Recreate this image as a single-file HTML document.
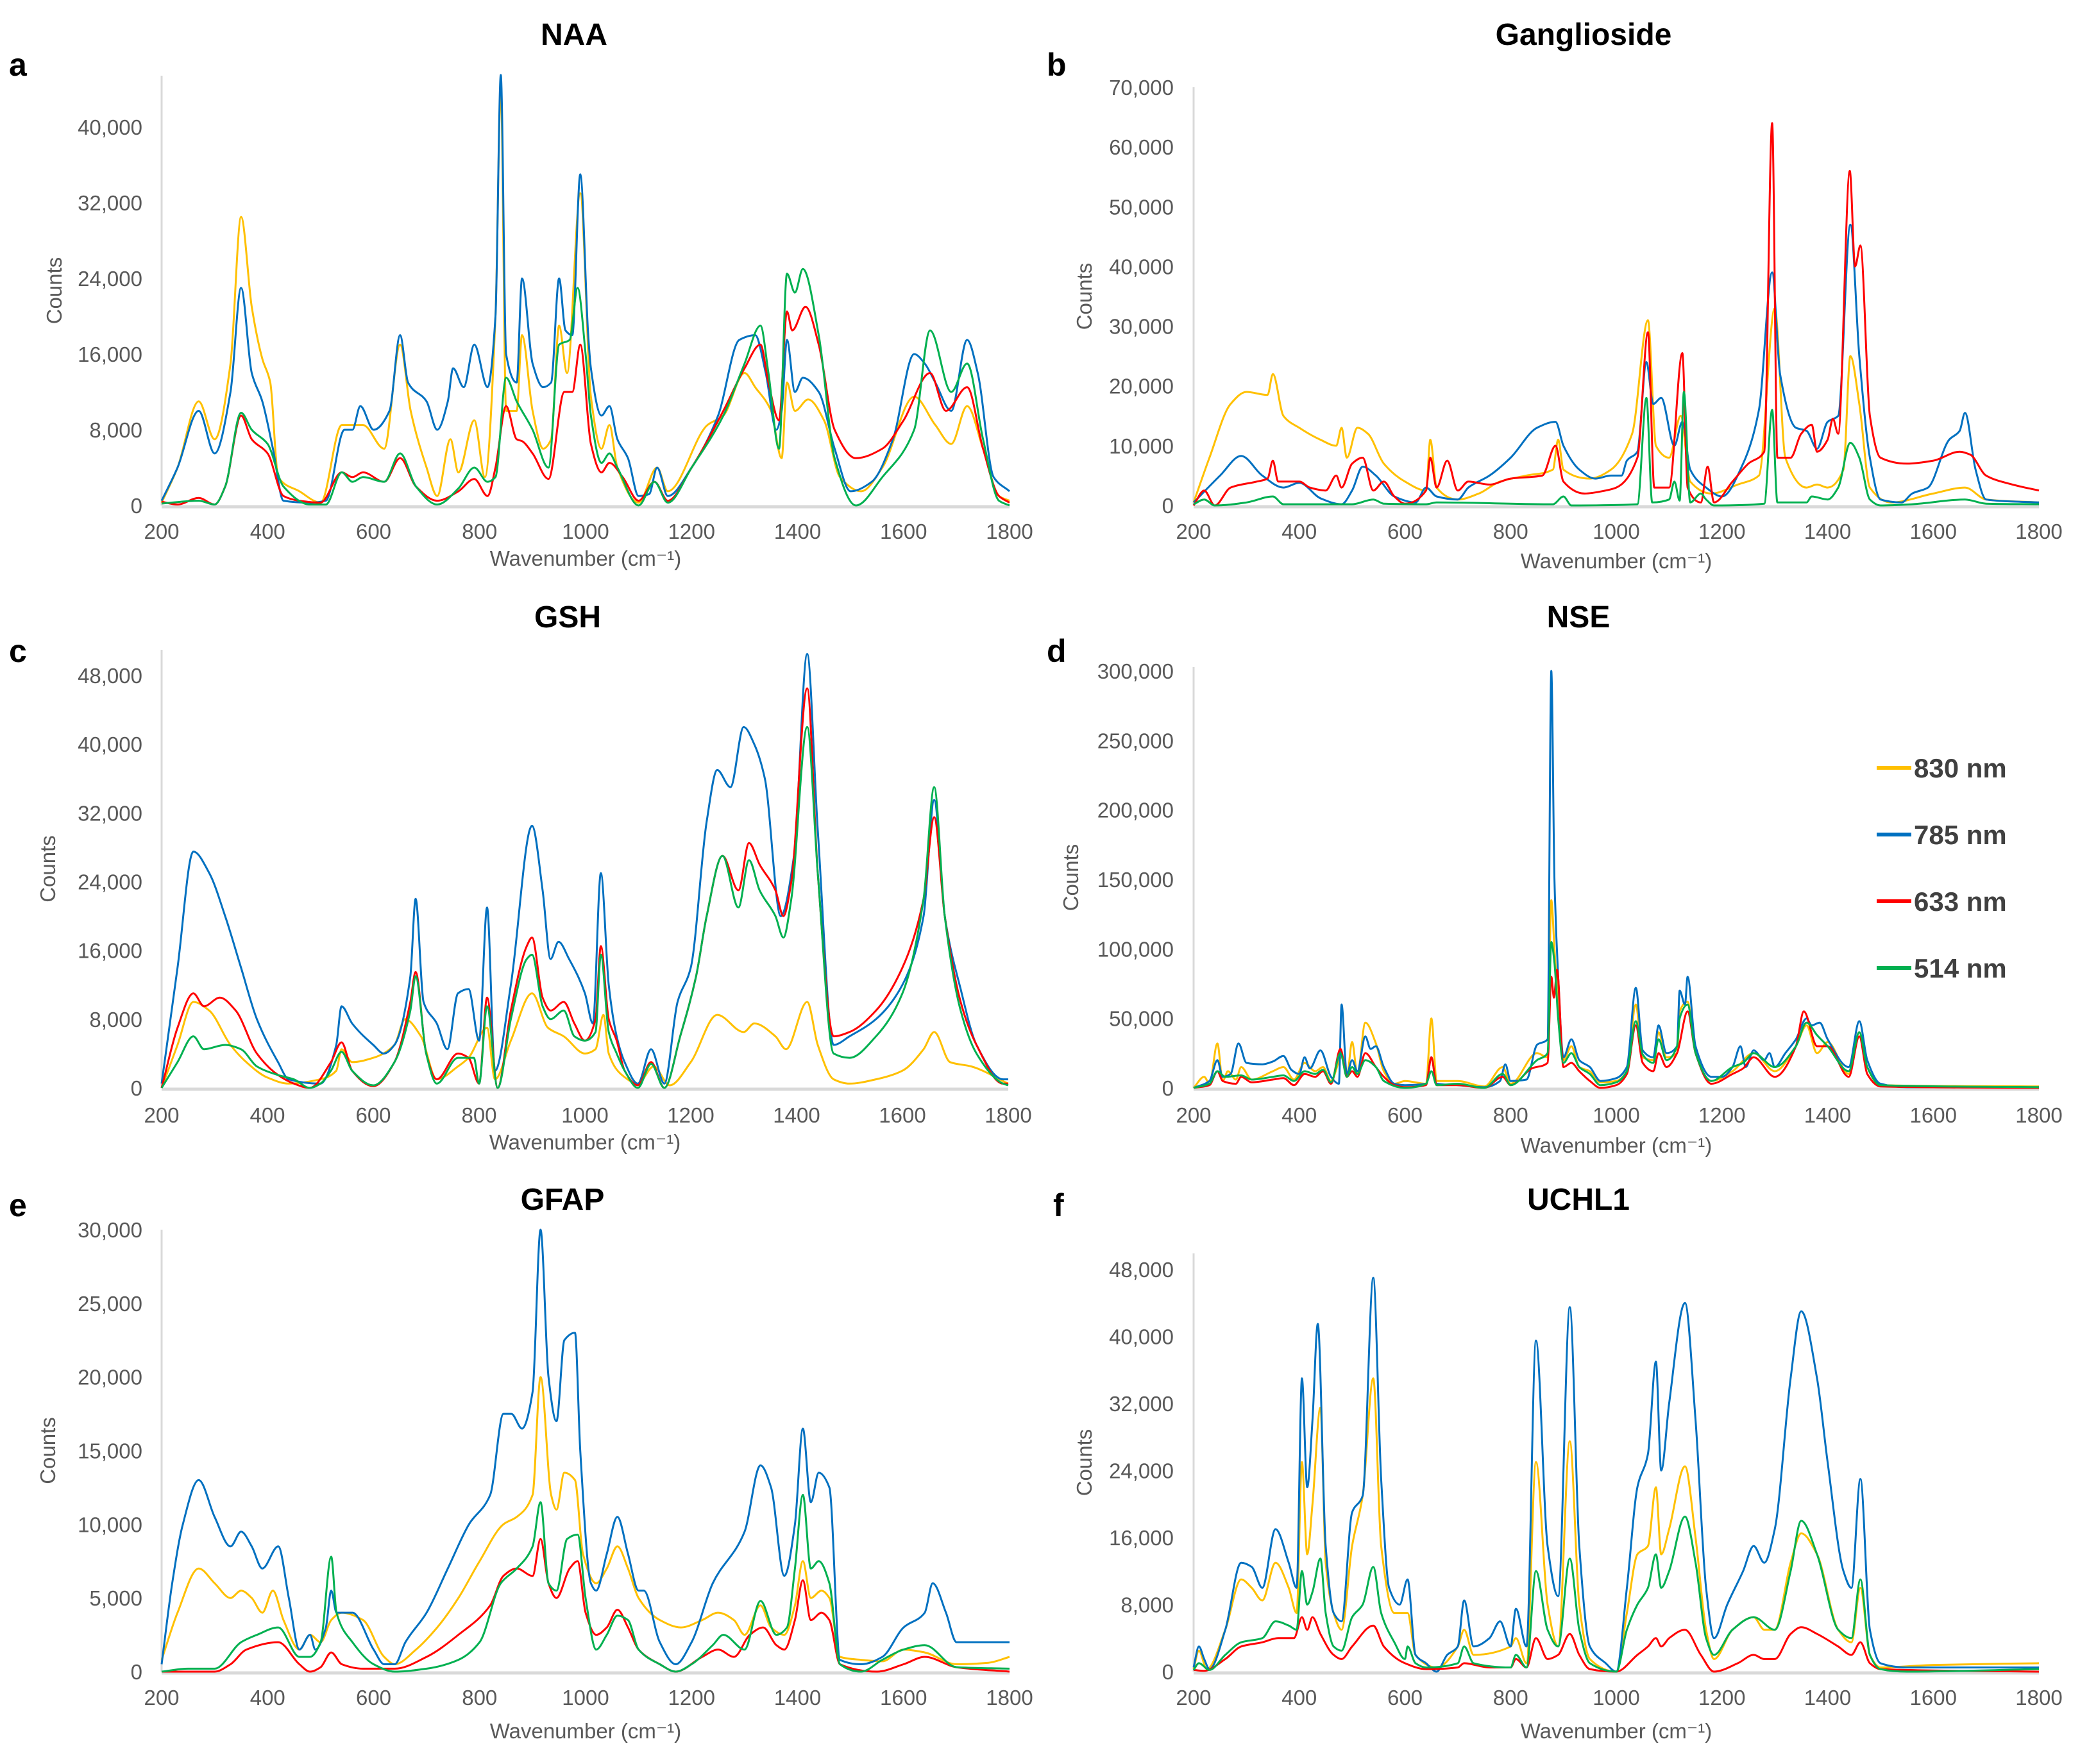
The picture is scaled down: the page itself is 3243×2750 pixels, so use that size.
<!DOCTYPE html>
<html><head><meta charset="utf-8"><style>
html,body{margin:0;padding:0;background:#fff}
svg{display:block}
text{font-family:"Liberation Sans",Arial,sans-serif}
</style></head><body>
<svg id="fig" width="3243" height="2750" viewBox="0 0 3243 2750" xmlns="http://www.w3.org/2000/svg"></svg>
<script>
// ---------- DATA (wavenumber, counts in thousands) ----------
const seriesNames = ["830 nm","785 nm","633 nm","514 nm"];
const panelTitles = ["NAA","Ganglioside","GSH","NSE","GFAP","UCHL1"];
const panelLetters = ["a","b","c","d","e","f"];
const xTicks = [200,400,600,800,1000,1200,1400,1600,1800];
const yTicksA = [0,8000,16000,24000,32000,40000];
const yTicksB = [0,10000,20000,30000,40000,50000,60000,70000];
const yTicksC = [0,8000,16000,24000,32000,40000,48000];
const yTicksD = [0,50000,100000,150000,200000,250000,300000];
const yTicksE = [0,5000,10000,15000,20000,25000,30000];
const yTicksF = [0,8000,16000,24000,32000,40000,48000];

const naa830=[[200,0.3],[230,4],[270,11],[300,7],[330,15],[350,30.5],[370,21],[390,15.5],[405,13],[420,3],[460,1.5],[500,0.3],[540,8.5],[580,8.5],[620,6],[650,17],[670,10],[700,4],[720,1],[745,7],[760,3.5],[790,9],[810,3],[830,20],[840,44],[850,10],[870,10],[880,18],[900,10],[920,6],[935,7],[950,19],[965,14],[990,33],[1010,11.5],[1030,6],[1045,8.5],[1060,4],[1100,0.3],[1135,4],[1155,1.5],[1230,8.5],[1260,9.5],[1300,14],[1320,12.5],[1350,10],[1370,5],[1380,13],[1395,10],[1420,11.2],[1450,9],[1480,3],[1520,1.5],[1560,4],[1620,11.5],[1660,8.5],[1690,6.5],[1720,10.5],[1750,6],[1780,1],[1800,0.5]];
const naa785=[[200,0.5],[230,4],[270,10],[300,5.5],[330,12],[350,23],[370,14],[390,11],[410,6],[430,0.5],[480,0.3],[510,0.5],[545,8],[560,8],[575,10.5],[600,8],[630,10],[650,18],[665,13],[700,11],[720,8],[740,11],[750,14.5],[770,12.5],[790,17],[815,12.5],[830,20],[840,45.5],[850,16],[870,13],[880,24],[900,15],[920,12.5],[935,13],[950,24],[962,18.5],[975,18],[990,35],[1005,18],[1010,14.5],[1030,9.5],[1045,10.5],[1060,7],[1080,5],[1100,1],[1120,1.2],[1135,4],[1155,1],[1200,4],[1250,9.5],[1290,17.5],[1320,18],[1340,14],[1360,8],[1370,10],[1380,17.5],[1395,12],[1410,13.5],[1440,12],[1470,6],[1500,1.5],[1540,2.5],[1580,7],[1620,16],[1640,15],[1660,13],[1690,10],[1720,17.5],[1740,14],[1770,3],[1800,1.5]];
const naa633=[[200,0.4],[230,0.1],[270,0.8],[300,0.1],[320,2],[350,9.5],[370,7],[400,5.5],[430,1],[460,0.5],[500,0.3],[540,3.5],[560,3],[580,3.5],[620,2.5],[650,5],[680,2],[720,0.5],[760,1.5],[790,2.8],[815,1],[830,4],[850,10.5],[870,7],[880,6.8],[900,5.5],[930,2.8],[960,12],[975,12],[990,17],[1010,6.5],[1030,3.5],[1045,4.5],[1070,3],[1100,0.5],[1130,2.5],[1155,0.5],[1200,4],[1260,10],[1300,14.5],[1330,17],[1345,13],[1365,9],[1380,20.5],[1390,18.5],[1415,21],[1440,17],[1470,8],[1510,5],[1560,6],[1600,9],[1650,14],[1680,10],[1720,12.5],[1750,6],[1780,1],[1800,0.3]];
const naa514=[[200,0.2],[270,0.5],[300,0.1],[320,2],[350,9.8],[370,8],[400,6.5],[430,2],[480,0.1],[510,0.1],[540,3.5],[560,2.5],[580,3],[620,2.5],[650,5.5],[680,2],[720,0.1],[760,1.8],[790,4],[815,2.5],[830,3],[850,13.5],[870,11],[900,8],[930,4],[950,17],[970,17.5],[985,23],[1000,16],[1010,9.5],[1030,4.5],[1045,5.5],[1060,4],[1100,0],[1130,2.5],[1155,0.3],[1200,4],[1260,9.5],[1300,15],[1330,19],[1345,14],[1365,6],[1380,24.5],[1395,22.5],[1410,25],[1440,18],[1470,5],[1510,0],[1560,3],[1620,8],[1650,18.5],[1690,12],[1720,15],[1750,7],[1780,0.5],[1800,0]];

const gan830=[[200,0.5],[230,8],[270,17],[300,19],[340,18.5],[350,22],[370,15],[400,13],[440,11],[470,10],[480,13],[490,8],[510,13],[530,12],[560,7],[600,4],[640,2.5],[648,11],[660,3],[700,1],[740,2],[780,4],[830,5],[880,6],[890,11],[900,6],[950,4.5],[990,6],[1030,12],[1060,31],[1075,10],[1100,8],[1122,15],[1140,4],[1180,2],[1230,3.5],[1270,5],[1300,33],[1320,8],[1360,3],[1380,3.5],[1400,3],[1430,6],[1443,25],[1460,17],[1480,3],[1520,0.5],[1600,2],[1660,3],[1700,1],[1800,0.5]];
const gan785=[[200,0.5],[250,5],[290,8.3],[330,5],[370,3],[400,3.8],[440,1.2],[480,0.2],[500,2.5],[520,6.5],[545,5],[580,1.5],[620,0.5],[640,3],[660,1.5],[700,1],[720,3],[760,5],[800,8],[850,13],[885,14],[900,10],[930,6],[960,4.5],[990,5],[1010,5],[1020,7.5],[1040,9],[1057,24],[1070,17],[1085,18],[1110,10],[1125,14],[1140,6],[1170,3],[1200,1.5],[1240,7],[1270,16],[1295,39],[1310,22],[1340,13],[1360,12.5],[1380,9.5],[1400,14],[1420,15],[1443,47],[1460,25],[1480,8],[1500,1],[1540,0.5],[1560,2],[1590,3],[1630,11],[1650,12.5],[1660,15.5],[1680,6],[1700,1],[1800,0.5]];
const gan633=[[200,0],[220,2.5],[240,0],[270,3],[320,4],[340,4.5],[350,7.5],[360,4],[400,4],[420,3],[450,2.5],[470,5],[480,3],[500,7],[520,8],[540,2.5],[560,4],[580,1.5],[600,0.3],[640,2.5],[648,8],[660,3],[680,7.5],[700,2.5],[720,4],[760,3.5],[800,4.5],[860,5],[885,10],[900,4],[940,2],[980,2.5],[1000,3],[1040,8],[1060,29],[1072,3],[1100,3],[1125,25.5],[1135,3],[1160,0.5],[1173,6.5],[1185,0.5],[1220,4],[1250,7],[1280,9],[1295,64],[1305,8],[1330,8],[1350,12],[1370,13.5],[1380,9],[1400,11],[1410,14.5],[1420,12],[1442,56],[1452,40],[1462,43.5],[1480,15],[1500,8],[1550,7],[1600,7.5],[1650,9],[1670,8.5],[1700,5],[1750,3.5],[1800,2.5]];
const gan514=[[200,0.2],[220,1],[240,0],[300,0.5],[350,1.5],[370,0.2],[500,0.2],[540,1],[560,0.3],[640,0.2],[660,0.5],[880,0.2],[900,1.5],[915,0],[1040,0.2],[1057,18],[1068,0.5],[1100,1],[1110,4],[1120,0.8],[1128,19],[1140,0.5],[1160,2],[1170,1],[1185,0],[1280,0.3],[1295,16],[1305,0.5],[1360,0.5],[1370,1.5],[1400,1],[1420,3],[1443,10.5],[1460,8],[1480,1],[1500,0],[1560,0.2],[1660,1],[1700,0.3],[1800,0.2]];

const gsh830=[[200,0],[230,5],[260,10],[290,9],[330,5],[360,3],[400,1.2],[440,0.5],[500,1],[530,2],[540,4.5],[560,3],[600,3.5],[640,5],[660,8],[690,6],[720,1],[760,2.5],[780,3.5],[815,7],[830,1],[860,5.5],[900,11],[930,7],[960,6],[1000,4],[1020,4.5],[1035,8.5],[1045,4],[1070,1.5],[1100,0.5],[1130,2.5],[1160,0.3],[1200,3],[1250,8.5],[1300,6.5],[1320,7.5],[1360,6],[1380,4.5],[1420,10],[1440,5],[1470,1],[1500,0.5],[1550,1],[1600,2],[1640,4.5],[1660,6.5],[1690,3],[1730,2.5],[1800,0.5]];
const gsh785=[[200,0.5],[230,14],[260,27.5],[290,25],[320,20],[350,14],[380,8],[420,3],[440,1],[500,0.5],[530,5],[540,9.5],[560,7.5],[600,5],[620,4],[640,5],[670,13],[680,22],[695,10],[720,7.5],[740,4.5],[760,11],[780,11.5],[800,5.5],[815,21],[830,2],[860,12],[900,30.5],[920,23],[935,15],[950,17],[970,15],[1000,11],[1015,7.5],[1030,25],[1045,12],[1060,6],[1075,3],[1100,0.5],[1125,4.5],[1150,0.5],[1175,10],[1200,14],[1230,31],[1250,37],[1275,35],[1300,42],[1320,40],[1340,36],[1370,20],[1395,27],[1420,50.5],[1440,30],[1470,5],[1500,6],[1550,8],[1600,12],[1640,20],[1660,33.5],[1680,20],[1710,11.5],[1740,5],[1790,1],[1800,1]];
const gsh633=[[200,0],[230,7],[260,11],[280,9.5],[310,10.5],[340,9],[380,4],[420,1.5],[450,0.5],[480,0],[520,3],[540,5.3],[560,2],[600,0.2],[640,3],[670,10],[680,13.5],[700,4],[720,1],[760,4],[780,3.5],[800,0.5],[815,10.5],[835,0],[860,9],[890,16.5],[900,17.5],[920,10.5],[935,9],[960,10],[980,7.5],[1000,5.5],[1020,8],[1030,16.5],[1045,8],[1060,5.5],[1075,2],[1100,0.3],[1125,3],[1150,0],[1180,6],[1210,13],[1230,20],[1260,27],[1290,23],[1310,28.5],[1330,26],[1360,23],[1375,20],[1390,24],[1420,46.5],[1440,25],[1470,6],[1500,6.5],[1550,9],[1600,14],[1640,22],[1660,31.5],[1680,20],[1710,10],[1740,5],[1790,0.5],[1800,0.5]];
const gsh514=[[200,0],[230,3],[260,6],[280,4.5],[320,5],[350,4.5],[380,2.5],[420,1.5],[450,1],[480,0],[500,0.5],[520,2],[540,4.2],[560,2],[600,0.3],[640,3],[670,9],[680,13],[700,4],[720,0.5],[760,3.5],[790,3.5],[800,0.5],[815,9.5],[835,0],[860,8],[890,15],[900,15.5],[920,9.5],[935,8],[960,9],[980,6],[1000,5.5],[1020,6.5],[1030,15.5],[1045,6.5],[1060,4],[1075,2],[1100,0],[1125,2.8],[1150,0],[1180,6],[1210,13],[1230,20],[1260,27],[1290,21],[1310,26.5],[1330,23],[1360,20],[1375,17.5],[1390,22],[1420,42],[1440,25],[1470,4],[1500,3.5],[1550,6],[1600,11],[1640,22],[1660,35],[1680,20],[1710,9],[1740,4],[1790,0.5],[1800,0.3]];

const nse830=[[200,0],[220,8],[230,3],[245,32],[255,5],[265,12],[280,6],[290,15],[310,6],[350,12],[370,15],[390,6],[410,18],[430,12],[445,15],[460,5],[480,22],[490,8],[500,33],[510,10],[525,47],[545,32],[560,12],[580,3],[600,5],[640,3],[650,50],[660,5],[700,5],[750,1],[785,15],[800,3],[850,25],[870,22],[877,135],[883,100],[890,60],[900,20],[915,30],[930,15],[950,12],[970,4],[1000,5],[1020,12],[1037,60],[1050,22],[1070,20],[1080,40],[1095,22],[1115,25],[1120,55],[1135,62],[1150,25],[1180,5],[1220,12],[1260,25],[1300,12],[1340,30],[1360,45],[1380,25],[1400,33],[1440,10],[1460,40],[1475,15],[1500,2],[1800,1]];
const nse785=[[200,0],[230,5],[245,20],[255,8],[270,10],[285,32],[300,18],[330,17],[350,19],[370,23],[385,13],[400,10],[410,22],[420,14],[440,27],[460,8],[475,3],[480,60],[490,10],[500,20],[510,12],[525,37],[535,28],[545,30],[560,15],[580,3],[600,2],[640,3],[650,22],[660,3],[700,2],[750,0.5],[780,5],[790,17],[800,5],[830,6],[850,31],[870,35],[877,300],[883,150],[890,80],[900,22],[915,35],[930,20],[950,15],[970,5],[1000,7],[1020,15],[1037,72],[1050,27],[1070,22],[1080,45],[1095,25],[1115,30],[1120,70],[1130,60],[1135,80],[1150,30],[1180,8],[1200,8],[1220,15],[1235,30],[1245,15],[1260,27],[1280,20],[1290,25],[1300,15],[1320,25],[1340,35],[1360,50],[1370,45],[1385,47],[1400,35],[1440,15],[1460,48],[1475,20],[1500,3],[1550,0.5],[1800,0.5]];
const nse633=[[200,0],[230,2],[245,12],[255,5],[280,3],[290,8],[310,4],[350,6],[370,7],[390,2],[410,10],[430,8],[445,12],[460,3],[478,28],[490,8],[500,12],[510,8],[525,25],[545,15],[560,8],[580,2],[600,0.5],[640,2],[650,22],[660,2],[700,2],[750,0],[785,8],[800,2],[840,14],[870,18],[877,80],[882,65],[888,85],[900,15],[915,18],[930,12],[950,5],[970,0],[1000,2],[1020,10],[1037,45],[1050,18],[1070,12],[1080,25],[1095,15],[1115,25],[1135,55],[1150,25],[1180,3],[1220,10],[1240,14],[1260,22],[1300,8],[1340,30],[1355,55],[1380,30],[1400,30],[1440,8],[1460,37],[1475,10],[1500,1],[1800,0]];
const nse514=[[200,0],[230,3],[245,12],[260,8],[290,9],[310,6],[350,8],[370,9],[390,5],[410,12],[430,10],[445,13],[460,4],[478,25],[490,8],[500,15],[510,10],[525,20],[545,15],[560,5],[600,0],[640,3],[650,12],[660,2],[700,3],[750,0],[785,10],[800,2],[850,20],[870,25],[877,105],[883,90],[890,50],[900,18],[915,25],[930,15],[950,10],[970,2],[1000,4],[1020,12],[1037,48],[1050,24],[1070,18],[1080,35],[1095,20],[1115,30],[1120,50],[1135,60],[1150,25],[1180,5],[1220,15],[1240,18],[1260,25],[1300,15],[1340,30],[1360,47],[1380,38],[1400,30],[1440,12],[1460,40],[1475,15],[1500,2],[1800,0.5]];

const gfap830=[[200,0.8],[230,4],[270,7],[300,6],[330,5],[350,5.5],[370,5],[390,4],[410,5.5],[430,3.5],[460,1.5],[480,2.5],[500,2],[520,3.5],[540,4],[580,3.5],[620,1],[640,0.5],[680,1.5],[720,3],[760,5],[800,7.5],[845,10],[870,10.5],[900,12],[915,20],[935,12],[945,11],[960,13.5],[980,13],[995,8],[1020,6],[1040,7],[1060,8.5],[1080,7],[1100,5],[1140,3.5],[1180,3],[1220,3.5],[1250,4],[1280,3.5],[1300,2.5],[1330,4.5],[1350,3],[1375,2.5],[1395,4.5],[1410,7.5],[1425,5],[1445,5.5],[1460,5],[1480,1],[1520,0.8],[1560,0.7],[1600,1.5],[1640,1.3],[1700,0.5],[1760,0.6],[1800,1]];
const gfap785=[[200,0.5],[220,6],[240,10],[270,13],[300,10.5],[330,8.5],[350,9.5],[370,8.5],[390,7],[420,8.5],[440,5],[460,1.5],[480,2.5],[490,1.5],[510,3],[520,5.5],[530,4],[560,4],[600,1.5],[620,0.5],[640,0.5],[660,2],[700,4],[740,7],[780,10],[820,12],[845,17.5],[860,17.5],[880,16.5],[900,19],[915,30],[930,20],[945,17],[960,22.5],[980,23],[990,15],[1010,6],[1020,5.5],[1040,8],[1060,10.5],[1080,8],[1100,5.5],[1110,5.5],[1140,2],[1170,0.5],[1200,2],[1240,6],[1300,9.5],[1330,14],[1350,12.5],[1375,6.5],[1395,10],[1410,16.5],[1425,11.5],[1440,13.5],[1460,12.5],[1480,0.8],[1520,0.5],[1560,1],[1600,3],[1640,4],[1655,6],[1680,4],[1700,2],[1750,2],[1800,2]];
const gfap633=[[200,0],[300,0],[330,0.5],[360,1.5],[420,2],[460,0.5],[480,0],[500,0.3],[520,1.3],[540,0.5],[580,0.2],[640,0.2],[700,1],[760,2.5],[820,4.5],[845,6.5],[870,7],[900,6.5],[915,9],[930,6],[945,5],[970,7],[985,7.5],[1000,4],[1020,2.5],[1040,3],[1060,4.2],[1080,3],[1100,1.5],[1140,0.5],[1170,0],[1220,1],[1250,1.5],[1280,1],[1310,2.5],[1335,3],[1360,1.8],[1375,1.5],[1395,3.5],[1410,6.2],[1425,3.5],[1445,4],[1460,3.5],[1480,0.5],[1550,0],[1600,0.5],[1640,1],[1700,0.3],[1800,0]];
const gfap514=[[200,0],[250,0.2],[300,0.2],[350,2],[380,2.5],[420,3],[460,1],[480,1],[500,2],[520,7.8],[530,4],[560,2],[600,0.5],[640,0],[700,0.2],[760,0.8],[800,2],[840,6],[870,7],[900,8.5],[915,11.5],[930,6],[945,5.5],[965,9],[985,9.3],[1000,5],[1020,1.5],[1040,2.5],[1060,3.8],[1080,3.5],[1100,1.5],[1140,0.5],[1170,0],[1200,0.5],[1240,1.8],[1260,2.5],[1300,1.5],[1330,4.8],[1360,2.5],[1380,3],[1395,7],[1410,12],[1425,7],[1440,7.5],[1460,6],[1480,0.5],[1520,0],[1560,0.8],[1600,1.5],[1640,1.8],[1700,0.3],[1800,0.2]];

const uch830=[[200,0.3],[210,2.5],[225,0.3],[260,5],[290,11],[310,10],[330,8.5],[355,13],[380,10],[395,7],[405,25],[415,14],[425,20],[440,31.5],[450,13],[465,7],[480,5],[500,15],[520,21],[540,35],[555,15],[580,7],[605,7],[620,2],[660,0.5],[700,3],[712,5],[730,2],[800,3],[810,4],[830,1],[848,25],[870,8],[890,3],[912,27.5],[930,8],[950,1.5],[1000,0],[1020,7],[1040,14],[1060,15],[1075,22],[1085,14],[1100,17],[1130,24.5],[1150,16],[1170,5],[1185,1.5],[1220,5],[1260,6.5],[1280,5],[1300,5],[1330,13],[1350,16.5],[1380,14],[1420,5],[1445,3.5],[1462,10],[1480,2],[1500,0.5],[1600,0.8],[1800,1]];
const uch785=[[200,0.5],[210,3],[220,1.5],[230,0.3],[260,5],[290,13],[310,12.5],[330,10],[355,17],[380,13],[395,10],[405,35],[415,22],[425,30],[435,41.5],[450,15],[465,7],[480,6],[500,19],[520,21],[540,47],[555,23],[570,10],[590,8],[605,11],[620,2],[640,1],[660,0],[680,2],[700,3],[712,8.5],[730,3],[760,4],[780,6],[800,3],[810,7.5],[830,3],[848,39.5],[870,15],[890,9],[912,43.5],[930,15],[950,3],[980,1],[1000,0],[1020,10],[1040,22],[1060,26],[1075,37],[1085,24],[1100,32],[1130,44],[1150,30],[1170,10],[1185,4],[1210,8],[1240,12],[1260,15],[1280,13],[1300,17],[1330,35],[1350,43],[1380,35],[1400,25],[1430,12],[1445,10],[1462,23],[1480,5],[1500,1],[1550,0.5],[1800,0.5]];
const uch633=[[200,0.2],[220,0.1],[260,1.5],[290,3],[330,3.5],[360,4],[390,4],[405,6.5],[415,5],[425,6.5],[440,4.5],[465,2],[480,1.5],[500,3],[540,5.5],[560,3],[600,1],[640,0.3],[700,0.5],[712,1],[760,0.5],[800,0.5],[810,1.5],[830,0.5],[848,4],[870,1.5],[890,2],[912,4.5],[930,2],[950,0.3],[1000,0],[1040,2],[1060,3],[1075,4],[1085,3],[1100,4],[1130,5],[1160,2],[1185,0],[1230,1],[1260,2],[1280,1.5],[1300,1.5],[1330,4.5],[1350,5.3],[1380,4.5],[1420,3],[1445,2],[1462,3.5],[1480,1],[1500,0.3],[1800,0]];
const uch514=[[200,0.2],[210,1],[230,0.2],[260,2],[290,3.5],[330,4],[355,6],[380,5.5],[395,5],[405,12],[415,8],[425,9.5],[440,13.5],[450,7],[465,3],[480,2.5],[500,6.5],[520,8],[540,12.5],[555,7],[580,3.5],[600,1.5],[605,3],[620,1],[640,0.5],[700,1],[712,3],[730,1],[800,0.5],[810,2],[830,0.5],[848,12],[870,5],[890,3],[912,13.5],[930,5],[950,1],[1000,0],[1020,5],[1040,8],[1060,10],[1075,14],[1085,10],[1100,12],[1130,18.5],[1150,13],[1170,4],[1185,2],[1220,5],[1260,6.5],[1300,5],[1330,12],[1350,18],[1380,14],[1420,5],[1445,4],[1462,11],[1480,2],[1500,0.3],[1550,0],[1800,0.3]];

// ---------- RENDER ----------
const NS="http://www.w3.org/2000/svg";
const svg=document.getElementById('fig');
const colors={"830 nm":"#FFC000","785 nm":"#0070C0","633 nm":"#FF0000","514 nm":"#00B050"};
const drawOrder=["830 nm","785 nm","633 nm","514 nm"];
function mk(tag,attrs,parent){const e=document.createElementNS(NS,tag);for(const k in attrs)e.setAttribute(k,attrs[k]);(parent||svg).appendChild(e);return e;}
function fmt(v){return v.toLocaleString('en-US');}
// monotone cubic (Fritsch-Carlson) path through screen points
function monoPath(P){
  const n=P.length;if(n<2)return '';
  const dx=[],m=[],t=new Array(n);
  for(let i=0;i<n-1;i++){dx[i]=P[i+1][0]-P[i][0];m[i]=(P[i+1][1]-P[i][1])/dx[i];}
  t[0]=m[0];t[n-1]=m[n-2];
  for(let i=1;i<n-1;i++){t[i]=(m[i-1]*m[i]<=0)?0:3*(dx[i-1]+dx[i])/((2*dx[i]+dx[i-1])/m[i-1]+(dx[i]+2*dx[i-1])/m[i]);}
  let d='M'+P[0][0].toFixed(1)+','+P[0][1].toFixed(1);
  for(let i=0;i<n-1;i++){
    const h=dx[i]/3;
    d+=' C'+(P[i][0]+h).toFixed(1)+','+(P[i][1]+t[i]*h).toFixed(1)+' '+(P[i+1][0]-h).toFixed(1)+','+(P[i+1][1]-t[i+1]*h).toFixed(1)+' '+P[i+1][0].toFixed(1)+','+P[i+1][1].toFixed(1);
  }
  return d;
}

const panels=[
 {ticks:yTicksA,data:{"830 nm":naa830,"785 nm":naa785,"633 nm":naa633,"514 nm":naa514},x0:252,x1:1574,y0:788,topVal:40000,topPx:198,axisTop:118,title:[895,70],letter:[14,118],tickR:222,xtY:840,xtitleY:882,ctitleX:96},
 {ticks:yTicksB,data:{"830 nm":gan830,"785 nm":gan785,"633 nm":gan633,"514 nm":gan514},x0:1861,x1:3179,y0:788,topVal:70000,topPx:136,axisTop:136,title:[2469,70],letter:[1632,118],tickR:1830,xtY:840,xtitleY:886,ctitleX:1702},
 {ticks:yTicksC,data:{"830 nm":gsh830,"785 nm":gsh785,"633 nm":gsh633,"514 nm":gsh514},x0:252,x1:1572,y0:1696,topVal:48000,topPx:1053,axisTop:1013,title:[885,978],letter:[14,1032],tickR:222,xtY:1750,xtitleY:1792,ctitleX:86},
 {ticks:yTicksD,data:{"830 nm":nse830,"785 nm":nse785,"633 nm":nse633,"514 nm":nse514},x0:1861,x1:3179,y0:1696,topVal:300000,topPx:1046,axisTop:1040,title:[2461,978],letter:[1632,1032],tickR:1830,xtY:1750,xtitleY:1797,ctitleX:1681},
 {ticks:yTicksE,data:{"830 nm":gfap830,"785 nm":gfap785,"633 nm":gfap633,"514 nm":gfap514},x0:252,x1:1574,y0:2606,topVal:30000,topPx:1917,axisTop:1917,title:[877,1886],letter:[14,1896],tickR:222,xtY:2658,xtitleY:2710,ctitleX:86},
 {ticks:yTicksF,data:{"830 nm":uch830,"785 nm":uch785,"633 nm":uch633,"514 nm":uch514},x0:1861,x1:3179,y0:2606,topVal:48000,topPx:1979,axisTop:1954,title:[2461,1886],letter:[1642,1896],tickR:1830,xtY:2658,xtitleY:2710,ctitleX:1702}
];

panels.forEach((p,i)=>{
  const g=mk('g',{});
  
  
  const xs=v=>p.x0+(v-200)/1600*(p.x1-p.x0);
  const ys=v=>p.y0-v/p.topVal*(p.y0-p.topPx);
  const t=mk('text',{x:p.title[0],y:p.title[1],'text-anchor':'middle','font-size':48,'font-weight':'bold',fill:'#000'},g);
  t.textContent=panelTitles[i];
  
  
  const l=mk('text',{x:p.letter[0],y:p.letter[1],'font-size':50,'font-weight':'bold',fill:'#000'},g);
  l.textContent=panelLetters[i];
  
  
  const ax=mk('line',{x1:p.x0,x2:p.x0,y1:p.axisTop,y2:p.y0,stroke:'#d9d9d9','stroke-width':3},g);
  
  
  const bl=mk('line',{x1:p.x0,x2:p.x1,y1:p.y0+2,y2:p.y0+2,stroke:'#d9d9d9','stroke-width':5},g);
  
  
  p.ticks.forEach(v=>{
    const tt=mk('text',{x:p.tickR,y:ys(v)+12,'text-anchor':'end','font-size':33,fill:'#595959'},g);
    tt.textContent=fmt(v);
    
    
  });
  xTicks.forEach(v=>{
    const tt=mk('text',{x:xs(v),y:p.xtY,'text-anchor':'middle','font-size':33,fill:'#595959'},g);
    tt.textContent=v;
    
    
  });
  const xt=mk('text',{x:(p.x0+p.x1)/2,y:p.xtitleY,'text-anchor':'middle','font-size':33,fill:'#595959'},g);
  xt.textContent='Wavenumber (cm\u207B\u00B9)';
  
  
  const cy=(p.axisTop+p.y0)/2;
  const ct=mk('text',{x:p.ctitleX,y:cy,'text-anchor':'middle','font-size':33,fill:'#595959',transform:'rotate(-90 '+p.ctitleX+' '+cy+')'},g);
  ct.textContent='Counts';
  
  
  drawOrder.forEach(s=>{
    const P=p.data[s].map(d=>[xs(d[0]),ys(d[1]*1000)]);
    const pl=mk('path',{d:monoPath(P),fill:'none',stroke:colors[s],'stroke-width':3,'stroke-linejoin':'round'},g);
    
    
  });
});

// legend
const lg=mk('g',{});


seriesNames.forEach((s,k)=>{
  const y=1197+k*104;
  const ln=mk('line',{x1:2926,x2:2980,y1:y,y2:y,stroke:colors[s],'stroke-width':6},lg);
  
  
  const tx=mk('text',{x:2984,y:y+15,'font-size':42,'font-weight':'bold',fill:'#404040'},lg);
  tx.textContent=s;
  
  
});
</script>
</body></html>
